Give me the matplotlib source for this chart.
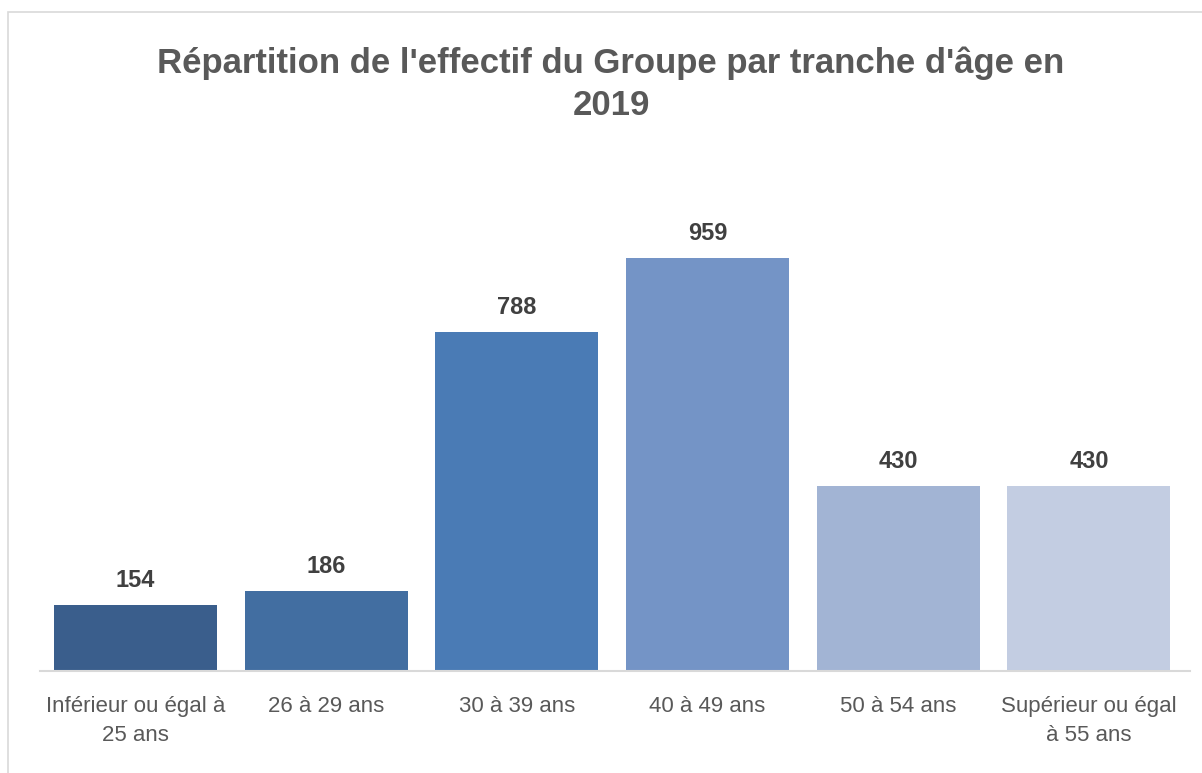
import matplotlib.pyplot as plt
from matplotlib.patches import Rectangle

# Data
categories = ["Inférieur ou égal à\n25 ans", "26 à 29 ans", "30 à 39 ans",
              "40 à 49 ans", "50 à 54 ans", "Supérieur ou égal\nà 55 ans"]
effectifs = [154, 186, 788, 959, 430, 430]
bar_colors = ["#3A5E8C", "#426EA1", "#4A7BB5", "#7494C6", "#A2B4D4", "#C3CDE2"]

plt.rcParams['font.family'] = ['Liberation Sans', 'DejaVu Sans']

W, H = 1202, 773
fig = plt.figure(figsize=(W / 100, H / 100), dpi=100)

# outer chart frame (cut at right/bottom)
fig.patches.append(Rectangle((8 / W, -0.1), 1.2, 1 - 12 / H + 0.1,
                             transform=fig.transFigure, fill=False,
                             edgecolor="#D9D9D9", linewidth=1.2))

left, right, bottom, top = 40, 1190, 671, 150
ax = fig.add_axes([left / W, 1 - bottom / H, (right - left) / W, (bottom - top) / H])

x = range(len(categories))
bars = ax.bar(x, effectifs, width=0.855, color=bar_colors)
ax.set_xlim(-0.5, 5.53)
ax.set_ylim(0, 1210)

for b, v in zip(bars, effectifs):
    ax.text(b.get_x() + b.get_width() / 2, v + 30, str(v), ha="center", va="bottom",
            fontsize=17, fontweight="bold", color="#404040")

ax.set_xticks(list(x))
ax.set_xticklabels(categories, fontsize=16, color="#595959", linespacing=1.5)
ax.tick_params(axis="x", length=0, pad=18)
ax.set_yticks([])
for s in ["top", "right", "left"]:
    ax.spines[s].set_visible(False)
ax.spines["bottom"].set_color("#D9D9D9")
ax.spines["bottom"].set_linewidth(1.5)

fig.text(611 / W, 1 - 84 / H, "Répartition de l'effectif du Groupe par tranche d'âge en\n2019",
         ha="center", va="center", fontsize=25, fontweight="bold", color="#595959",
         linespacing=1.35)

fig.savefig("out.png", dpi=100)
